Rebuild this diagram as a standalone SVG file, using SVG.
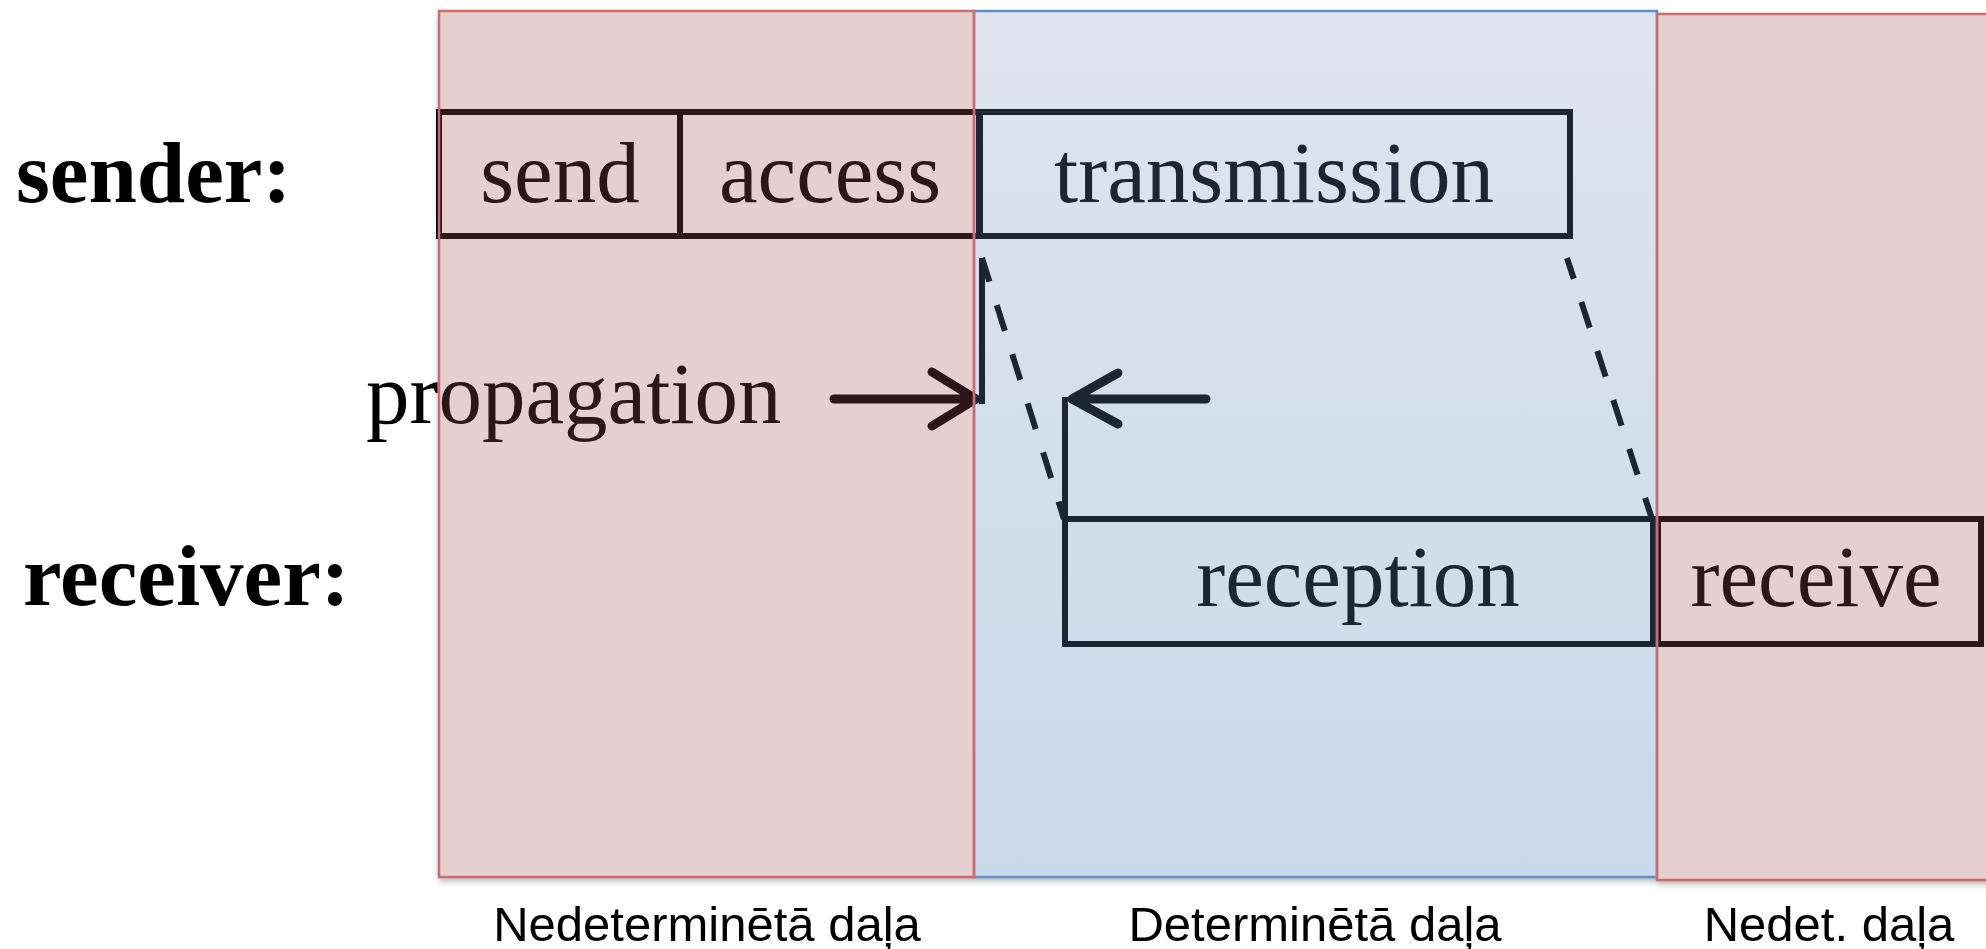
<svg xmlns="http://www.w3.org/2000/svg" width="1986" height="949" viewBox="0 0 1986 949">
  <defs>
    <linearGradient id="blueFill" x1="0" y1="0" x2="0" y2="1">
      <stop offset="0" stop-color="#dee4ef"/>
      <stop offset="1" stop-color="#c9d9e9"/>
    </linearGradient>
    <linearGradient id="ink" gradientUnits="userSpaceOnUse" x1="0" y1="0" x2="1986" y2="0">
      <stop offset="0" stop-color="#000000"/>
      <stop offset="0.2210" stop-color="#000000"/>
      <stop offset="0.2210" stop-color="#2c1617"/>
      <stop offset="0.4904" stop-color="#2c1617"/>
      <stop offset="0.4904" stop-color="#1b2533"/>
      <stop offset="0.8343" stop-color="#1b2533"/>
      <stop offset="0.8343" stop-color="#2c1617"/>
      <stop offset="1" stop-color="#2c1617"/>
    </linearGradient>
    <filter id="shadow" x="-5%" y="-5%" width="110%" height="110%">
      <feDropShadow dx="0" dy="4" stdDeviation="3" flood-color="#000" flood-opacity="0.3"/>
    </filter>
  </defs>
  <style>
    .serif { font-family: "Liberation Serif", "Times New Roman", serif; font-size: 87px; fill: url(#ink); }
    .bold { font-weight: bold; }
    .mid { text-anchor: middle; }
    .sans { font-family: "Liberation Sans", Arial, sans-serif; font-size: 49px; fill: #000; text-anchor: middle; }
    .box { fill: none; stroke: url(#ink); stroke-width: 6; }
    .line { fill: none; stroke: url(#ink); stroke-width: 6; }
    .arrow { fill: none; stroke: url(#ink); stroke-width: 9; stroke-linecap: round; stroke-linejoin: round; }
    .dash { fill: none; stroke: url(#ink); stroke-width: 6; stroke-dasharray: 27 24.5; }
    .pinkPanel { fill: #e5cfcf; }
    .bluePanel { fill: url(#blueFill); }
    .redEdge { fill: none; stroke: #cf6b68; stroke-width: 2.5; }
    .blueEdge { fill: none; stroke: #5d8fcf; stroke-width: 2.5; }
  </style>

  <!-- background panels -->
  <g id="panels" filter="url(#shadow)">
    <rect id="panel-determined" class="bluePanel" x="974" y="11" width="683" height="866"/>
    <rect id="panel-nondet-left" class="pinkPanel" x="439" y="11" width="535" height="866"/>
    <rect id="panel-nondet-right" class="pinkPanel" x="1657" y="14" width="340" height="866"/>
  </g>

  <!-- row labels -->
  <g id="label-sender"><text class="serif bold" x="16" y="202">sender:</text></g>
  <g id="label-receiver"><text class="serif bold" x="23" y="605">receiver:</text></g>

  <!-- sender nodes -->
  <g id="node-send">
    <rect class="box" x="439" y="112" width="241" height="124"/>
    <text class="serif mid" x="560" y="202">send</text>
  </g>
  <g id="node-access">
    <rect class="box" x="680" y="112" width="299" height="124"/>
    <text class="serif mid" x="830" y="202">access</text>
  </g>
  <g id="node-transmission">
    <rect class="box" x="980" y="112" width="590" height="124"/>
    <text class="serif mid" x="1274" y="202">transmission</text>
  </g>

  <!-- receiver nodes -->
  <g id="node-reception">
    <rect class="box" x="1065" y="519" width="588" height="125"/>
    <text class="serif mid" x="1358" y="606">reception</text>
  </g>
  <g id="node-receive">
    <rect class="box" x="1658" y="519" width="323" height="125"/>
    <text class="serif mid" x="1816" y="606">receive</text>
  </g>

  <g id="label-propagation"><text class="serif" x="366" y="423">propagation</text></g>

  <!-- connectors -->
  <g id="connectors">
    <line class="line" x1="982" y1="258" x2="982" y2="404"/>
    <line class="line" x1="1065" y1="397" x2="1065" y2="519"/>
    <line class="dash" x1="982" y1="258" x2="1064" y2="519" stroke-dashoffset="2.2"/>
    <line class="dash" x1="1567" y1="258" x2="1652" y2="519" stroke-dashoffset="5.2"/>
    <path class="arrow" d="M834,399 H974 M932,372 L976,399 L932,426"/>
    <path class="arrow" d="M1206,399 H1074 M1118,373 L1072,399 L1118,424"/>
  </g>

  <!-- panel borders (drawn on top) -->
  <g id="panel-borders">
    <rect class="blueEdge" x="974" y="11" width="683" height="866"/>
    <rect class="redEdge" x="439" y="11" width="535" height="866"/>
    <rect class="redEdge" x="1657" y="14" width="340" height="866" stroke-width="3.5"/>
  </g>

  <!-- bottom captions -->
  <g id="caption-left"><text class="sans" x="707" y="941">Nedeterminētā daļa</text></g>
  <g id="caption-middle"><text class="sans" x="1315" y="941">Determinētā daļa</text></g>
  <g id="caption-right"><text class="sans" x="1829" y="941">Nedet. daļa</text></g>
</svg>
